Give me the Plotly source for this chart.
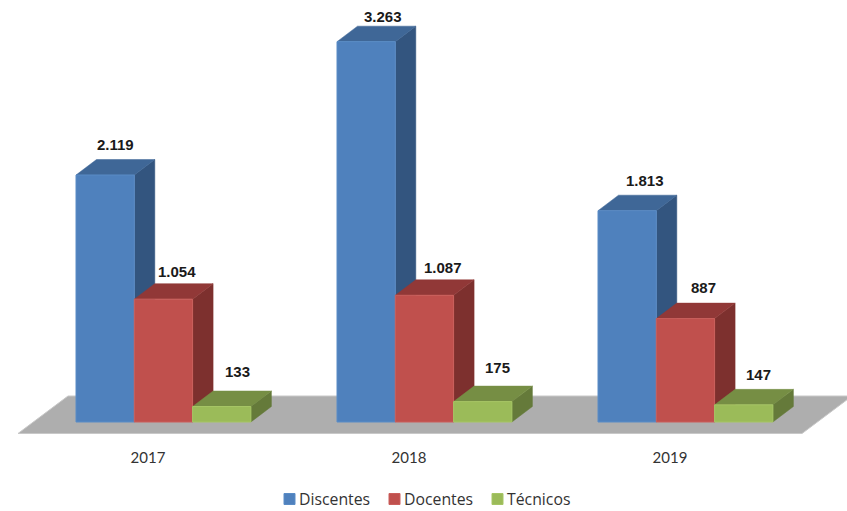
import plotly.graph_objects as go

# --- data ---
years = ["2017", "2018", "2019"]
discentes = [2119, 3263, 1813]
docentes = [1054, 1087, 887]
tecnicos = [133, 175, 147]
series_names = ["Discentes", "Docentes", "Técnicos"]
value_labels_discentes = ["2.119", "3.263", "1.813"]
value_labels_docentes = ["1.054", "1.087", "887"]
value_labels_tecnicos = ["133", "175", "147"]

# --- geometry / style ---
W, H = 847, 511
PLOT_BOTTOM = 440
BASE_Y = 422
PX_PER_VALUE = 0.11656
CAT_STEP = 261.0
CAT0_X = 148.0
BAR_W = 58.3
GROUP_LEFT = -72.0
DEPTH_X, DEPTH_Y = 20.5, 15.5
FLOOR_L, FLOOR_R, FLOOR_FRONT, FLOOR_BACK = 18.0, 802.0, 433.5, 396.0
FLOOR_DX = 50.0

face = ["#4F81BD", "#C0504D", "#9BBB59"]
edge = ["#5A8CC6", "#CB5F5C", "#A6C565"]
top = ["#3F6797", "#913837", "#768E44"]
side = ["#33557F", "#7D302E", "#657A3A"]
floor_fill = "#AEAEAE"
floor_edge = "#C8C8C8"
label_font = "Liberation Sans"
text_font = "Lato"
legend_font = "Open Sans"

# label offsets from each bar's top-centre, pixels (x right, y up)
label_dx = [[10, 17, 17.5], [13.5, 18.5, 18], [15.5, 15, 15]]
label_dy = [[31, 25, 30], [28, 28, 31], [35.5, 34, 30]]

all_values = [discentes, docentes, tecnicos]
all_labels = [value_labels_discentes, value_labels_docentes, value_labels_tecnicos]


def dx(px):
    return px / CAT_STEP


def dy(px):
    return px / PX_PER_VALUE


def x_of(px):
    return (px - CAT0_X) / CAT_STEP


def y_of(px):
    return (BASE_Y - px) / PX_PER_VALUE


fig = go.Figure()

# floor
fig.add_trace(go.Scatter(
    x=[x_of(FLOOR_L), x_of(FLOOR_R), x_of(FLOOR_R + FLOOR_DX), x_of(FLOOR_L + FLOOR_DX), x_of(FLOOR_L)],
    y=[y_of(FLOOR_FRONT), y_of(FLOOR_FRONT), y_of(FLOOR_BACK), y_of(FLOOR_BACK), y_of(FLOOR_FRONT)],
    mode="lines", fill="toself", fillcolor=floor_fill,
    line=dict(color=floor_edge, width=1), hoverinfo="skip", showlegend=False, zorder=0,
))

annotations = []
bar_w = dx(BAR_W)
for s, (name, values, labels) in enumerate(zip(series_names, all_values, all_labels)):
    left = [i + dx(GROUP_LEFT) + s * bar_w for i in range(len(values))]
    centers = [l + bar_w / 2 for l in left]
    top_x, top_y, side_x, side_y = [], [], [], []
    for l, v in zip(left, values):
        r = l + bar_w
        top_x += [l, r, r + dx(DEPTH_X), l + dx(DEPTH_X), l, None]
        top_y += [v, v, v + dy(DEPTH_Y), v + dy(DEPTH_Y), v, None]
        side_x += [r, r + dx(DEPTH_X), r + dx(DEPTH_X), r, r, None]
        side_y += [0, dy(DEPTH_Y), v + dy(DEPTH_Y), v, 0, None]
    z = 1 + 2 * s
    fig.add_trace(go.Scatter(x=side_x, y=side_y, mode="lines", fill="toself", fillcolor=side[s],
                             line=dict(color=side[s], width=0.5), hoverinfo="skip",
                             showlegend=False, zorder=z))
    fig.add_trace(go.Scatter(x=top_x, y=top_y, mode="lines", fill="toself", fillcolor=top[s],
                             line=dict(color=top[s], width=0.5), hoverinfo="skip",
                             showlegend=False, zorder=z))
    fig.add_trace(go.Bar(x=centers, y=values, width=bar_w, name=name,
                         marker=dict(color=face[s], line=dict(color=edge[s], width=1)),
                         zorder=z + 1, showlegend=False))
    for c, v, t, ox, oy in zip(centers, values, labels, label_dx[s], label_dy[s]):
        annotations.append(dict(x=c, y=v, text=f"<b>{t}</b>", showarrow=False, xref="x", yref="y",
                                xanchor="center", yanchor="middle", xshift=ox, yshift=oy,
                                font=dict(family=label_font, size=15, color="#1A1A1A")))

# legend row
legend_swatch_x = [284, 389, 492]
legend_y = 499
SW = 11
shapes = []
for s, name in enumerate(series_names):
    x0 = legend_swatch_x[s]
    shapes.append(dict(type="rect", xref="paper", yref="paper",
                       x0=x0 / W, x1=(x0 + SW) / W,
                       y0=(PLOT_BOTTOM - legend_y - SW / 2) / PLOT_BOTTOM,
                       y1=(PLOT_BOTTOM - legend_y + SW / 2) / PLOT_BOTTOM,
                       fillcolor=face[s], line=dict(color=edge[s], width=1)))
    annotations.append(dict(x=(x0 + SW + 2) / W, y=(PLOT_BOTTOM - legend_y) / PLOT_BOTTOM,
                            xref="paper", yref="paper", text=name, showarrow=False,
                            xanchor="left", yanchor="middle",
                            font=dict(family=legend_font, size=15.8, color="#333333")))

fig.update_layout(
    width=W, height=H,
    margin=dict(l=0, r=0, t=0, b=H - PLOT_BOTTOM, autoexpand=False),
    paper_bgcolor="white", plot_bgcolor="white",
    barmode="overlay", showlegend=False,
    annotations=annotations, shapes=shapes,
    xaxis=dict(range=[x_of(0), x_of(W)], tickmode="array", tickvals=list(range(len(years))),
               ticktext=years, showgrid=False, zeroline=False, showline=False, ticks="",
               ticklabelstandoff=7, tickfont=dict(family=text_font, size=15, color="#333333")),
    yaxis=dict(range=[y_of(PLOT_BOTTOM), y_of(0)], visible=False, showgrid=False, zeroline=False),
)

fig.write_html("out.html", config={"displayModeBar": False},
               post_script="document.body.style.margin='0';document.documentElement.style.overflow='hidden';")
